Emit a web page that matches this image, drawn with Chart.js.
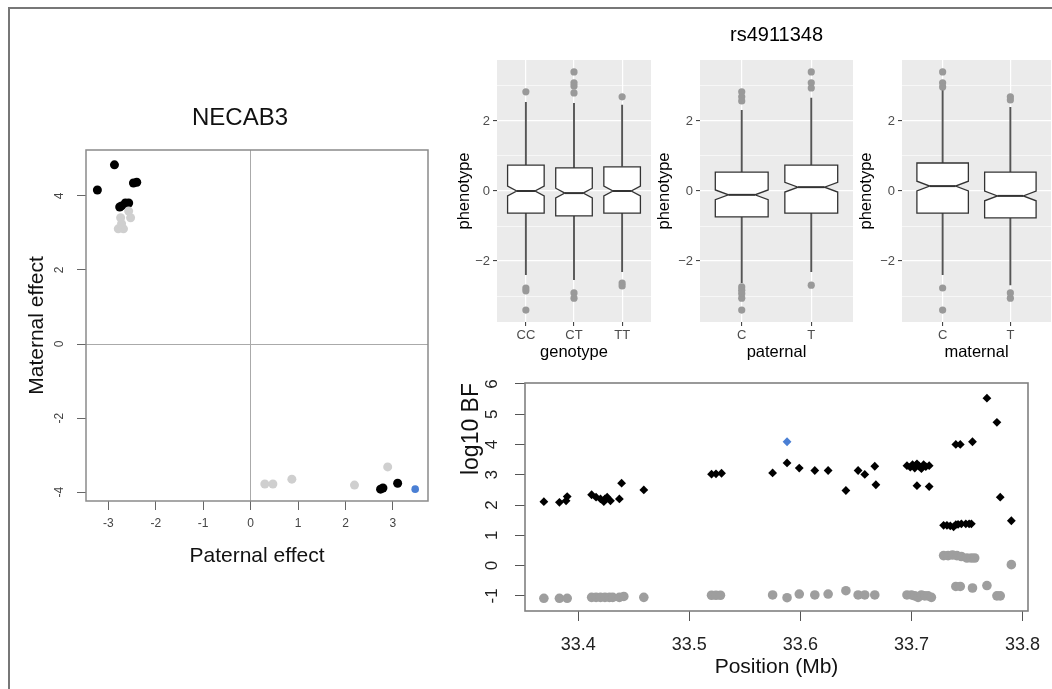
<!DOCTYPE html>
<html lang="en">
<head>
<meta charset="UTF-8">
<title>NECAB3 / rs4911348</title>
<script src="https://cdn.jsdelivr.net/npm/chart.js"></script>
<style>
  body { margin: 0; width: 1052px; height: 689px; overflow: hidden; background: #fff; position: relative; }
  .frame { position: absolute; left: 8px; top: 7px; width: 1100px; height: 720px; border: 2px solid #777; }
  canvas { position: absolute; }
</style>
</head>
<body>
<div class="frame"></div>
<canvas id="effects" width="430" height="500" style="left:10px;top:90px"></canvas>
<canvas id="boxGeno" width="210" height="360" style="left:445px;top:10px"></canvas>
<canvas id="boxPat" width="207" height="360" style="left:650px;top:10px"></canvas>
<canvas id="boxMat" width="200" height="360" style="left:855px;top:10px"></canvas>
<canvas id="bfPlot" width="603" height="324" style="left:455px;top:365px"></canvas>

<script>
const F = "'Liberation Sans', Arial, Helvetica, sans-serif";

// ---- NECAB3: paternal vs maternal effect ----
const effBlackPat = [-3.23, -2.87, -2.47, -2.40, -2.64, -2.57, -2.72, -2.76, 2.79, 2.74, 3.10];
const effBlackMat = [4.16, 4.84, 4.35, 4.37, 3.81, 3.81, 3.73, 3.70, -3.89, -3.92, -3.76];
const effGrayPat = [-2.74, -2.79, -2.68, -2.53, -2.57, -2.72, 0.30, 0.47, 0.87, 2.19, 2.89];
const effGrayMat = [3.41, 3.11, 3.11, 3.41, 3.59, 3.25, -3.78, -3.78, -3.65, -3.81, -3.32];
const effLeadPat = [3.47];
const effLeadMat = [-3.92];
const effTicksX = [-3, -2, -1, 0, 1, 2, 3];
const effTicksY = [-4, -2, 0, 2, 4];

// ---- rs4911348 boxplots ----
const phenoTicks = [-3, -2, -1, 0, 1, 2, 3];

const genoCats = ['CC', 'CT', 'TT'];
const genoLo = [-2.40, -2.54, -2.31];
const genoQ1 = [-0.63, -0.71, -0.63];
const genoMed = [0.00, -0.06, 0.00];
const genoQ3 = [0.74, 0.66, 0.69];
const genoHi = [2.54, 2.51, 2.46];
const genoNotch = [0.14, 0.14, 0.14];
const genoOut = [[2.83, -2.77, -2.85, -3.40], [3.40, 3.09, 3.00, 2.80, -2.91, -3.06], [2.69, -2.63, -2.71]];

const patCats = ['C', 'T'];
const patLo = [-2.63, -2.31];
const patQ1 = [-0.74, -0.63];
const patMed = [-0.11, 0.11];
const patQ3 = [0.54, 0.74];
const patHi = [2.31, 2.66];
const patNotch = [0.14, 0.14];
const patOut = [[2.83, 2.69, 2.57, -2.74, -2.83, -2.93, -3.06, -3.40], [3.40, 3.09, 2.94, -2.69]];

const matCats = ['C', 'T'];
const matLo = [-2.40, -2.69];
const matQ1 = [-0.63, -0.77];
const matMed = [0.14, -0.14];
const matQ3 = [0.80, 0.54];
const matHi = [2.88, 2.40];
const matNotch = [0.14, 0.14];
const matOut = [[3.40, 3.09, 2.97, -2.77, -3.40], [2.69, 2.60, -2.91, -3.06]];

// ---- log10 BF along the region ----
const bfBlackPos = [33.369, 33.383, 33.389, 33.390, 33.412, 33.416, 33.420, 33.423, 33.424, 33.426, 33.429, 33.437, 33.439, 33.459,
  33.520, 33.524, 33.529, 33.575, 33.588, 33.599, 33.613, 33.625, 33.641, 33.652, 33.658, 33.667, 33.668,
  33.696, 33.699, 33.701, 33.703, 33.704, 33.705, 33.707, 33.709, 33.711, 33.713, 33.716, 33.705, 33.716,
  33.729, 33.732, 33.735, 33.738, 33.740, 33.742, 33.745, 33.749, 33.752, 33.754,
  33.740, 33.744, 33.755, 33.768, 33.777, 33.780, 33.790];
const bfBlackVal = [2.11, 2.09, 2.14, 2.28, 2.34, 2.26, 2.20, 2.11, 2.20, 2.26, 2.14, 2.20, 2.72, 2.50,
  3.02, 3.03, 3.05, 3.06, 3.39, 3.22, 3.14, 3.14, 2.48, 3.14, 3.01, 3.28, 2.67,
  3.30, 3.25, 3.33, 3.22, 3.30, 3.36, 3.28, 3.20, 3.33, 3.27, 3.30, 2.64, 2.61,
  1.33, 1.33, 1.31, 1.28, 1.35, 1.36, 1.38, 1.38, 1.38, 1.38,
  4.00, 4.00, 4.09, 5.53, 4.73, 2.26, 1.48];
const bfGrayPos = [33.369, 33.383, 33.390, 33.412, 33.416, 33.420, 33.424, 33.428, 33.431, 33.437, 33.441, 33.459,
  33.520, 33.524, 33.528, 33.575, 33.588, 33.599, 33.613, 33.625, 33.641, 33.652, 33.658, 33.667,
  33.696, 33.700, 33.703, 33.706, 33.709, 33.712, 33.715, 33.718,
  33.729, 33.733, 33.737, 33.741, 33.745, 33.750, 33.754, 33.757,
  33.740, 33.744, 33.755, 33.768, 33.777, 33.780, 33.790];
const bfGrayVal = [-1.08, -1.08, -1.08, -1.05, -1.05, -1.05, -1.05, -1.05, -1.05, -1.05, -1.02, -1.05,
  -0.98, -0.98, -0.98, -0.97, -1.06, -0.94, -0.97, -0.94, -0.83, -0.97, -0.97, -0.97,
  -0.97, -0.97, -1.00, -1.05, -0.97, -1.00, -1.00, -1.05,
  0.33, 0.33, 0.35, 0.33, 0.30, 0.25, 0.25, 0.25,
  -0.69, -0.69, -0.74, -0.66, -1.00, -1.00, 0.03];
const bfLeadPos = [33.588];
const bfLeadVal = [4.09];
const posTicks = [33.4, 33.5, 33.6, 33.7, 33.8];
const bfTicks = [-1, 0, 1, 2, 3, 4, 5, 6];

const pts = (xs, ys) => xs.map((x, i) => ({x: x, y: ys[i]}));
const minus = v => (v < 0 ? '\u2212' + Math.abs(v) : String(v));

// base-R look: box around the plot region and y labels turned along the axis
function rFrame(opt) {
  return {
    id: 'rFrame',
    afterDatasetsDraw(chart) {
      const {ctx, chartArea: a} = chart;
      const ys = chart.scales.y;
      ctx.save();
      ctx.strokeStyle = opt.boxColor;
      ctx.lineWidth = opt.boxWidth;
      ctx.strokeRect(a.left, a.top, a.right - a.left, a.bottom - a.top);
      ctx.fillStyle = opt.labelColor;
      ctx.font = opt.font;
      ctx.textAlign = 'center';
      ctx.textBaseline = 'middle';
      ys.ticks.forEach(t => {
        ctx.save();
        ctx.translate(a.left - opt.gap, ys.getPixelForValue(t.value));
        ctx.rotate(-Math.PI / 2);
        ctx.fillText(String(t.value), 0, 0);
        ctx.restore();
      });
      ctx.restore();
    }
  };
}

// title centred over the plot region (shifted by dx), at canvas height y
function panelTitle(opt) {
  return {
    id: 'panelTitle',
    afterDraw(chart) {
      const {ctx, chartArea: a} = chart;
      ctx.save();
      ctx.fillStyle = opt.color;
      ctx.font = opt.font;
      ctx.textAlign = 'center';
      ctx.textBaseline = 'middle';
      ctx.fillText(opt.text, (a.left + a.right) / 2 + opt.dx, opt.y);
      ctx.restore();
    }
  };
}

// ggplot-like notched boxes, drawn with the chart's own scales
function notchBoxes(s) {
  return {
    id: 'notchBoxes',
    beforeDraw(chart) {
      const {ctx, chartArea: a} = chart;
      ctx.save();
      ctx.fillStyle = '#ebebeb';
      ctx.fillRect(a.left, a.top, a.right - a.left, a.bottom - a.top);
      ctx.restore();
    },
    beforeDatasetsDraw(chart) {
      const {ctx} = chart;
      const xs = chart.scales.x, ys = chart.scales.y;
      const Y = v => ys.getPixelForValue(v);
      const half = xs.getPixelForValue(1 + 0.38) - xs.getPixelForValue(1);
      const nw = half * 0.5;
      ctx.save();
      s.q1.forEach((q1, i) => {
        const x = xs.getPixelForValue(i + 1);
        const m = Y(s.med[i]), nTop = Y(s.med[i] + s.notch[i]), nBot = Y(s.med[i] - s.notch[i]);
        ctx.strokeStyle = '#555';
        ctx.lineWidth = 1.9;
        ctx.beginPath();
        ctx.moveTo(x, Y(s.hi[i])); ctx.lineTo(x, Y(s.q3[i]));
        ctx.moveTo(x, Y(q1)); ctx.lineTo(x, Y(s.lo[i]));
        ctx.stroke();
        ctx.beginPath();
        ctx.moveTo(x - half, Y(s.q3[i]));
        ctx.lineTo(x + half, Y(s.q3[i]));
        ctx.lineTo(x + half, nTop);
        ctx.lineTo(x + nw, m);
        ctx.lineTo(x + half, nBot);
        ctx.lineTo(x + half, Y(q1));
        ctx.lineTo(x - half, Y(q1));
        ctx.lineTo(x - half, nBot);
        ctx.lineTo(x - nw, m);
        ctx.lineTo(x - half, nTop);
        ctx.closePath();
        ctx.fillStyle = '#fff';
        ctx.fill();
        ctx.strokeStyle = '#333';
        ctx.lineWidth = 1.3;
        ctx.stroke();
        ctx.lineWidth = 2;
        ctx.beginPath();
        ctx.moveTo(x - nw, m); ctx.lineTo(x + nw, m);
        ctx.stroke();
      });
      ctx.restore();
    }
  };
}

// ---------- NECAB3 ----------
new Chart(document.getElementById('effects'), {
  type: 'scatter',
  data: {
    datasets: [
      {data: pts(effGrayPat, effGrayMat), backgroundColor: '#cfcfcf', pointRadius: 4.5, borderWidth: 0},
      {data: pts(effBlackPat, effBlackMat), backgroundColor: '#000', pointRadius: 4.5, borderWidth: 0},
      {data: pts(effLeadPat, effLeadMat), backgroundColor: '#4a7fd4', pointRadius: 3.8, borderWidth: 0}
    ]
  },
  options: {
    responsive: false, animation: false, devicePixelRatio: 1,
    layout: {padding: {left: 0, top: 60, right: 12, bottom: 0}},
    plugins: {legend: {display: false}, tooltip: {enabled: false}},
    scales: {
      x: {
        type: 'linear', min: -3.47, max: 3.74,
        afterBuildTicks: s => { s.ticks = effTicksX.map(v => ({value: v})); },
        grid: {color: c => (c.tick && c.tick.value === 0 ? '#aaa' : 'transparent'), tickColor: '#666', tickLength: 9, lineWidth: 1},
        border: {display: false},
        ticks: {color: '#444', font: {family: F, size: 12}, padding: 6, maxRotation: 0, callback: v => String(v)},
        title: {display: true, text: 'Paternal effect', color: '#111', font: {family: F, size: 21}, padding: {top: 0, bottom: 21}},
        afterFit: s => { s.height = 89; }
      },
      y: {
        type: 'linear', min: -4.24, max: 5.24,
        afterBuildTicks: s => { s.ticks = effTicksY.map(v => ({value: v})); },
        grid: {color: c => (c.tick && c.tick.value === 0 ? '#aaa' : 'transparent'), tickColor: '#666', tickLength: 9, lineWidth: 1},
        border: {display: false},
        ticks: {display: false},
        title: {display: true, text: 'Maternal effect', color: '#111', font: {family: F, size: 21}, padding: {top: 15, bottom: 0}},
        afterFit: s => { s.width = 76; }
      }
    }
  },
  plugins: [
    rFrame({boxColor: '#8a8a8a', boxWidth: 1.5, labelColor: '#444', font: '12px ' + F, gap: 26}),
    panelTitle({text: 'NECAB3', color: '#111', font: '24px ' + F, dx: -17, y: 28})
  ]
});

// ---------- boxplots ----------
function boxPanel(id, cats, st, out, xTitle, yWidth, yTitlePad, padRight, title) {
  const outX = [], outY = [];
  out.forEach((arr, i) => arr.forEach(v => { outX.push(i + 1); outY.push(v); }));
  const extra = [notchBoxes(st)];
  if (title) extra.push(panelTitle({text: title, color: '#000', font: '20px ' + F, dx: 0, y: 25}));
  new Chart(document.getElementById(id), {
    type: 'scatter',
    data: {datasets: [{data: pts(outX, outY), backgroundColor: '#999', pointRadius: 3.6, borderWidth: 0}]},
    options: {
      responsive: false, animation: false, devicePixelRatio: 1,
      layout: {padding: {left: 0, top: 50, right: padRight, bottom: 0}},
      plugins: {legend: {display: false}, tooltip: {enabled: false}},
      scales: {
        x: {
          type: 'linear', min: 0.4, max: cats.length + 0.6,
          afterBuildTicks: s => { s.ticks = cats.map((c, i) => ({value: i + 1})); },
          grid: {color: '#fff', lineWidth: 1.2, tickColor: '#333', tickLength: 4, tickWidth: 1},
          border: {display: false},
          ticks: {color: '#4d4d4d', font: {family: F, size: 13}, padding: 2, maxRotation: 0, callback: v => cats[v - 1]},
          title: {display: true, text: xTitle, color: '#000', font: {family: F, size: 16.5}, padding: {top: 0, bottom: 8}},
          afterFit: s => { s.height = 48; }
        },
        y: {
          type: 'linear', min: -3.74, max: 3.74,
          afterBuildTicks: s => { s.ticks = phenoTicks.map(v => ({value: v})); },
          grid: {
            color: '#fff',
            lineWidth: c => (c.tick.value % 2 === 0 ? 1.2 : 0.6),
            tickColor: c => (c.tick.value % 2 === 0 ? '#333' : 'transparent'),
            tickLength: 4, tickWidth: 1
          },
          border: {display: false},
          ticks: {color: '#4d4d4d', font: {family: F, size: 13}, padding: 3, callback: v => (v % 2 === 0 ? minus(v) : '')},
          title: {display: true, text: 'phenotype', color: '#000', font: {family: F, size: 16.5}, padding: {top: yTitlePad, bottom: 0}},
          afterFit: s => { s.width = yWidth; }
        }
      }
    },
    plugins: extra
  });
}

boxPanel('boxGeno', genoCats, {lo: genoLo, q1: genoQ1, med: genoMed, q3: genoQ3, hi: genoHi, notch: genoNotch}, genoOut, 'genotype', 52, 10, 3, null);
boxPanel('boxPat', patCats, {lo: patLo, q1: patQ1, med: patMed, q3: patQ3, hi: patHi, notch: patNotch}, patOut, 'paternal', 50, 5, 3, 'rs4911348');
boxPanel('boxMat', matCats, {lo: matLo, q1: matQ1, med: matMed, q3: matQ3, hi: matHi, notch: matNotch}, matOut, 'maternal', 47, 2, 2, null);

// ---------- log10 BF ----------
new Chart(document.getElementById('bfPlot'), {
  type: 'scatter',
  data: {
    datasets: [
      {data: pts(bfGrayPos, bfGrayVal), backgroundColor: '#9e9e9e', pointRadius: 4.8, borderWidth: 0},
      {data: pts(bfBlackPos, bfBlackVal), backgroundColor: '#000', pointStyle: 'rectRot', pointRadius: 4.4, borderWidth: 0},
      {data: pts(bfLeadPos, bfLeadVal), backgroundColor: '#4a7fd4', pointStyle: 'rectRot', pointRadius: 4.4, borderWidth: 0}
    ]
  },
  options: {
    responsive: false, animation: false, devicePixelRatio: 1,
    layout: {padding: {left: 0, top: 18, right: 30, bottom: 0}},
    plugins: {legend: {display: false}, tooltip: {enabled: false}},
    scales: {
      x: {
        type: 'linear', min: 33.352, max: 33.805,
        afterBuildTicks: s => { s.ticks = posTicks.map(v => ({value: v})); },
        grid: {color: 'transparent', tickColor: '#555', tickLength: 10, lineWidth: 1},
        border: {display: false},
        ticks: {color: '#222', font: {family: F, size: 18}, padding: 13, maxRotation: 0, callback: v => v.toFixed(1)},
        title: {display: true, text: 'Position (Mb)', color: '#111', font: {family: F, size: 21}, padding: {top: 0, bottom: 9}},
        afterFit: s => { s.height = 78; }
      },
      y: {
        type: 'linear', min: -1.5, max: 6.03,
        afterBuildTicks: s => { s.ticks = bfTicks.map(v => ({value: v})); },
        grid: {color: 'transparent', tickColor: '#555', tickLength: 10, lineWidth: 1},
        border: {display: false},
        ticks: {display: false},
        title: {display: true, text: 'log10 BF', color: '#111', font: {family: F, size: 23}, align: 'end', padding: {top: 3, bottom: 0}},
        afterFit: s => { s.width = 70; }
      }
    }
  },
  plugins: [rFrame({boxColor: '#808080', boxWidth: 1.6, labelColor: '#222', font: '17px ' + F, gap: 33})]
});
</script>
</body>
</html>
